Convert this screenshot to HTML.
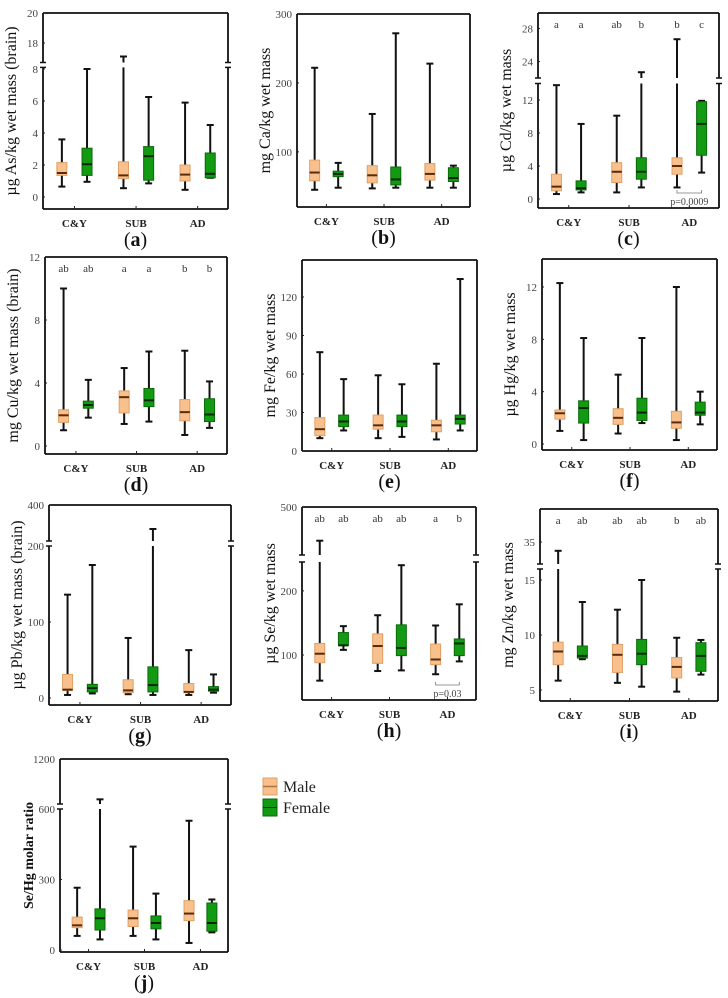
<!DOCTYPE html>
<html><head><meta charset="utf-8">
<style>
html,body{margin:0;padding:0;background:#fff;}
svg{display:block;font-family:"Liberation Serif",serif;}
</style></head>
<body>
<svg id="fig" width="728" height="998" viewBox="0 0 728 998" xmlns="http://www.w3.org/2000/svg">
<g>
  <rect x="263" y="778" width="14" height="17" fill="#f8c08c" stroke="#e0a066"/>
  <line x1="263" y1="786.5" x2="277" y2="786.5" stroke="#b07040" stroke-width="1.5"/>
  <text x="283" y="792" font-size="16" fill="#222">Male</text>
  <rect x="263" y="799" width="14" height="17" fill="#129a12" stroke="#0a6a0a"/>
  <line x1="263" y1="807.5" x2="277" y2="807.5" stroke="#064006" stroke-width="1"/>
  <text x="283" y="813" font-size="16" fill="#222">Female</text>
</g>
</svg>
<script>
// categories
const groups = ["C&Y","SUB","AD"];
// each series: [min, q1, median, q3, max] per group
const a_male   = [[0.65,1.35,1.5,2.15,3.6],[0.55,1.15,1.35,2.2,17.1],[0.45,1.0,1.4,2.0,5.9]];
const a_female = [[0.95,1.35,2.05,3.05,8.0],[0.85,1.05,2.55,3.15,6.25],[1.2,1.2,1.45,2.75,4.5]];
const b_male   = [[45,58,70,88,222],[47,55,66,80,155],[48,59,68,83,228]];
const b_female = [[48,64,68,72,84],[48,52,60,78,272],[48,57,62,77,80]];
const c_male   = [[0.6,1.0,1.5,3.0,13.8],[0.8,2.0,3.3,4.4,10.1],[1.4,3.0,4.0,5.0,26.7]];
const c_female = [[0.8,1.1,1.3,2.2,9.1],[1.4,2.4,3.3,5.0,22.7],[3.2,5.3,9.1,11.8,11.9]];
const d_male   = [[1.0,1.5,1.95,2.3,10.0],[1.4,2.1,3.1,3.5,4.95],[0.7,1.6,2.15,2.95,6.05]];
const d_female = [[1.8,2.4,2.6,2.85,4.2],[1.55,2.5,2.9,3.65,6.0],[1.15,1.55,2.0,3.0,4.1]];
const e_male   = [[10,12,17,26,77],[10,17,20,28,59],[9,15,20,24,68]];
const e_female = [[16,19,23,28,56],[11,19,23,28,52],[16,21,25,28,134]];
const f_male   = [[1.0,1.9,2.35,2.6,12.3],[0.8,1.5,2.0,2.7,5.3],[0.3,1.2,1.65,2.5,12.0]];
const f_female = [[0.3,1.6,2.75,3.3,8.1],[1.6,1.8,2.4,3.5,8.1],[1.5,2.2,2.4,3.2,4.0]];
const g_male   = [[4,10,11,31,136],[5,7,10,24,79],[4,7,8,19,63]];
const g_female = [[6,8,13,18,175],[4,8,17,41,280],[7,9,11,15,31]];
const h_male   = [[60,88,102,118,335],[75,87,114,133,162],[70,85,93,117,146]];
const h_female = [[108,115,115,135,145],[76,99,111,147,240],[90,99,118,125,179]];
const i_male   = [[5.85,7.3,8.5,9.35,33],[5.65,6.6,8.2,9.15,12.3],[4.85,6.1,7.1,7.95,9.75]];
const i_female = [[7.8,7.9,8.1,9.0,13.0],[5.3,7.3,8.3,9.6,15.0],[6.4,6.7,8.1,9.3,9.55]];
const j_male   = [[60,95,105,140,265],[60,100,135,170,440],[30,125,155,210,550]];
const j_female = [[45,85,135,175,680],[45,90,115,145,240],[75,80,115,200,215]];
// significance letters [male, female] per group
const c_letters = [["a","a"],["ab","b"],["b","c"]];
const d_letters = [["ab","ab"],["a","a"],["b","b"]];
const h_letters = [["ab","ab"],["ab","ab"],["a","b"]];
const i_letters = [["a","ab"],["ab","ab"],["b","ab"]];

const panels = [
 {id:"a",title:"µg As/kg wet mass (brain)",L:43,R:228,T:13,B:209,segs:[[0,8.1,197,67.4],[16.7,20,62.5,13]],ticks:[0,2,4,6,8,18,20],male:a_male,female:a_female},
 {id:"b",title:"mg Ca/kg wet mass",L:297,R:470,T:14,B:207,segs:[[20,300,207,14]],ticks:[100,200,300],male:b_male,female:b_female},
 {id:"c",title:"µg Cd/kg wet mass",L:538,R:719,T:13,B:208,segs:[[0,14,199,83.5],[22,30,78,12]],ticks:[0,4,8,12,24,28],male:c_male,female:c_female,letters:c_letters,p:"p=0.0009"},
 {id:"d",title:"mg Cu/kg wet mass (brain)",L:45,R:227,T:257,B:454,segs:[[0,12,446,257]],ticks:[0,4,8,12],male:d_male,female:d_female,letters:d_letters},
 {id:"e",title:"mg Fe/kg wet mass",L:302,R:477,T:260,B:451,segs:[[0,120,451,297]],ticks:[0,30,60,90,120],male:e_male,female:e_female},
 {id:"f",title:"µg Hg/kg wet mass",L:542,R:717,T:259,B:450,segs:[[0,12,444,287]],ticks:[0,4,8,12],male:f_male,female:f_female},
 {id:"g",title:"µg Pb/kg wet mass (brain)",L:49,R:231,T:505,B:705,segs:[[0,200,698,546],[220,400,541,505]],ticks:[0,100,200,400],male:g_male,female:g_female},
 {id:"h",title:"µg Se/kg wet mass",L:302,R:476,T:507,B:700,segs:[[100,245,655,562],[265,500,555,507]],ticks:[100,200,500],male:h_male,female:h_female,letters:h_letters,p:"p=0.03"},
 {id:"i",title:"mg Zn/kg wet mass",L:540,R:718,T:509,B:701,segs:[[5,16,690,569],[30,35,564,542]],ticks:[5,10,15,35],male:i_male,female:i_female,letters:i_letters},
 {id:"j",title:"Se/Hg molar ratio",L:60,R:228,T:759,B:952,segs:[[0,600,950,809],[620,1200,804,759]],ticks:[0,300,600,1200],male:j_male,female:j_female,boldTitle:true}
];

const NS="http://www.w3.org/2000/svg";
const svg=document.getElementById("fig");
function mk(tag,attrs,parent){const e=document.createElementNS(NS,tag);for(const k in attrs)e.setAttribute(k,attrs[k]);(parent||svg).appendChild(e);return e;}

function yScale(p,v){
  const s=p.segs;
  for(const g of s){ if(v>=g[0]&&v<=g[1]) return g[2]+(v-g[0])/(g[1]-g[0])*(g[3]-g[2]); }
  if(v<s[0][0]){const g=s[0];return g[2]+(v-g[0])/(g[1]-g[0])*(g[3]-g[2]);}
  const last=s[s.length-1];
  if(v>last[1]){return last[2]+(v-last[0])/(last[1]-last[0])*(last[3]-last[2]);}
  for(let k=0;k<s.length-1;k++){ if(v>s[k][1]&&v<s[k+1][0]){const t=(v-s[k][1])/(s[k+1][0]-s[k][1]);return s[k][3]+t*(s[k+1][2]-s[k][3]);} }
  return s[0][2];
}
const groupFrac=[0.17,0.503,0.836], off=0.068;
function xScale(p,gi,sex){const w=p.R-p.L;return p.L+w*(groupFrac[gi]+(sex===0?-off:off));}

function drawBox(p,g,x,st,sex,gi){
  const [mn,q1,md,q3,mx]=st;
  const yMin=yScale(p,mn),yMax=yScale(p,mx),y1=yScale(p,q1),y3=yScale(p,q3),ym=yScale(p,md);
  const bw=10,cw=7;
  const grp=mk("g",{},g);
  
  
  mk("line",{x1:x,y1:yMin,x2:x,y2:yMax,stroke:"#111","stroke-width":2},grp);
  mk("line",{x1:x-cw/2,y1:yMin,x2:x+cw/2,y2:yMin,stroke:"#111","stroke-width":2},grp);
  mk("line",{x1:x-cw/2,y1:yMax,x2:x+cw/2,y2:yMax,stroke:"#111","stroke-width":2},grp);
  const fill=sex===0?"#f8c08c":"#129a12", stroke=sex===0?"#e0a066":"#0a6a0a";
  mk("rect",{x:x-bw/2,y:Math.min(y1,y3),width:bw,height:Math.max(1,Math.abs(y1-y3)),fill:fill,stroke:stroke,"stroke-width":1},grp);
  mk("line",{x1:x-bw/2,y1:ym,x2:x+bw/2,y2:ym,stroke:sex===0?"#5a2a0a":"#062806","stroke-width":2},grp);
}

panels.forEach(p=>{
  const g=mk("g",{});
  
  
  for(let gi=0;gi<3;gi++){
    drawBox(p,g,xScale(p,gi,0),p.male[gi],0,gi);
    drawBox(p,g,xScale(p,gi,1),p.female[gi],1,gi);
  }
  for(let k=0;k<p.segs.length-1;k++){
    const ya=p.segs[k][3], yb=p.segs[k+1][2];
    mk("rect",{x:p.L-6,y:yb,width:p.R-p.L+12,height:ya-yb,fill:"#fff"},g);
  }
  const fr=mk("g",{},g);
  
  
  mk("line",{x1:p.L,y1:p.T,x2:p.R,y2:p.T,stroke:"#111","stroke-width":1.8},fr);
  mk("line",{x1:p.L,y1:p.B,x2:p.R,y2:p.B,stroke:"#111","stroke-width":1.8},fr);
  const ends=[p.T];
  for(let k=p.segs.length-1;k>0;k--){ends.push(p.segs[k][2]);ends.push(p.segs[k-1][3]);}
  ends.push(p.B);
  for(let k=0;k<ends.length;k+=2){
    [p.L,p.R].forEach(x=>mk("line",{x1:x,y1:ends[k],x2:x,y2:ends[k+1],stroke:"#111","stroke-width":1.8},fr));
  }
  for(let k=1;k<ends.length-1;k++){
    [p.L,p.R].forEach(x=>mk("line",{x1:x-3,y1:ends[k],x2:x+3,y2:ends[k],stroke:"#111","stroke-width":1.5},fr));
  }
  p.ticks.forEach(t=>{
    const y=yScale(p,t);
    mk("line",{x1:p.L,y1:y,x2:p.L+2,y2:y,stroke:"#222","stroke-width":1},g);
    const tx=mk("text",{x:p.L-5,y:y+4,"text-anchor":"end","font-size":11,fill:"#444"},g);
    
    
    tx.textContent=t;
  });
  groups.forEach((gn,gi)=>{
    const x=p.L+(p.R-p.L)*groupFrac[gi];
    mk("line",{x1:x,y1:p.B,x2:x,y2:p.B-3,stroke:"#222","stroke-width":1},g);
    const tx=mk("text",{x:x,y:p.B+18,"text-anchor":"middle","font-size":11,"font-weight":"bold",fill:"#222"},g);
    
    
    tx.textContent=gn;
  });
  const cy=(p.T+p.B)/2, cx=p.L-27;
  const yt=mk("text",{x:cx,y:cy,"text-anchor":"middle","font-size":p.boldTitle?14:16,"font-weight":p.boldTitle?"bold":"normal",fill:"#111",transform:`rotate(-90 ${cx} ${cy})`},g);
  
  
  yt.textContent=p.title;
  const pl=mk("text",{x:(p.L+p.R)/2,y:p.B+37,"text-anchor":"middle","font-size":20,fill:"#111"},g);
  
  
  pl.appendChild(document.createTextNode("("));
  const b=mk("tspan",{"font-weight":"bold"},pl); b.textContent=p.id;
  pl.appendChild(document.createTextNode(")"));
  if(p.letters){
    p.letters.forEach((pair,gi)=>pair.forEach((l,sex)=>{
      const t=mk("text",{x:xScale(p,gi,sex),y:p.T+15,"text-anchor":"middle","font-size":11,fill:"#333"},g);
      
      
      t.textContent=l;
    }));
  }
  if(p.p){
    const x1=xScale(p,2,0),x2=xScale(p,2,1),yb=p.B-15;
    mk("path",{d:`M${x1} ${yb-3}V${yb}H${x2}V${yb-3}`,fill:"none",stroke:"#777","stroke-width":0.8},g);
    const t=mk("text",{x:(x1+x2)/2,y:p.B-3,"text-anchor":"middle","font-size":10,fill:"#444"},g);
    
    
    t.textContent=p.p;
  }
});
</script>
</body></html>
